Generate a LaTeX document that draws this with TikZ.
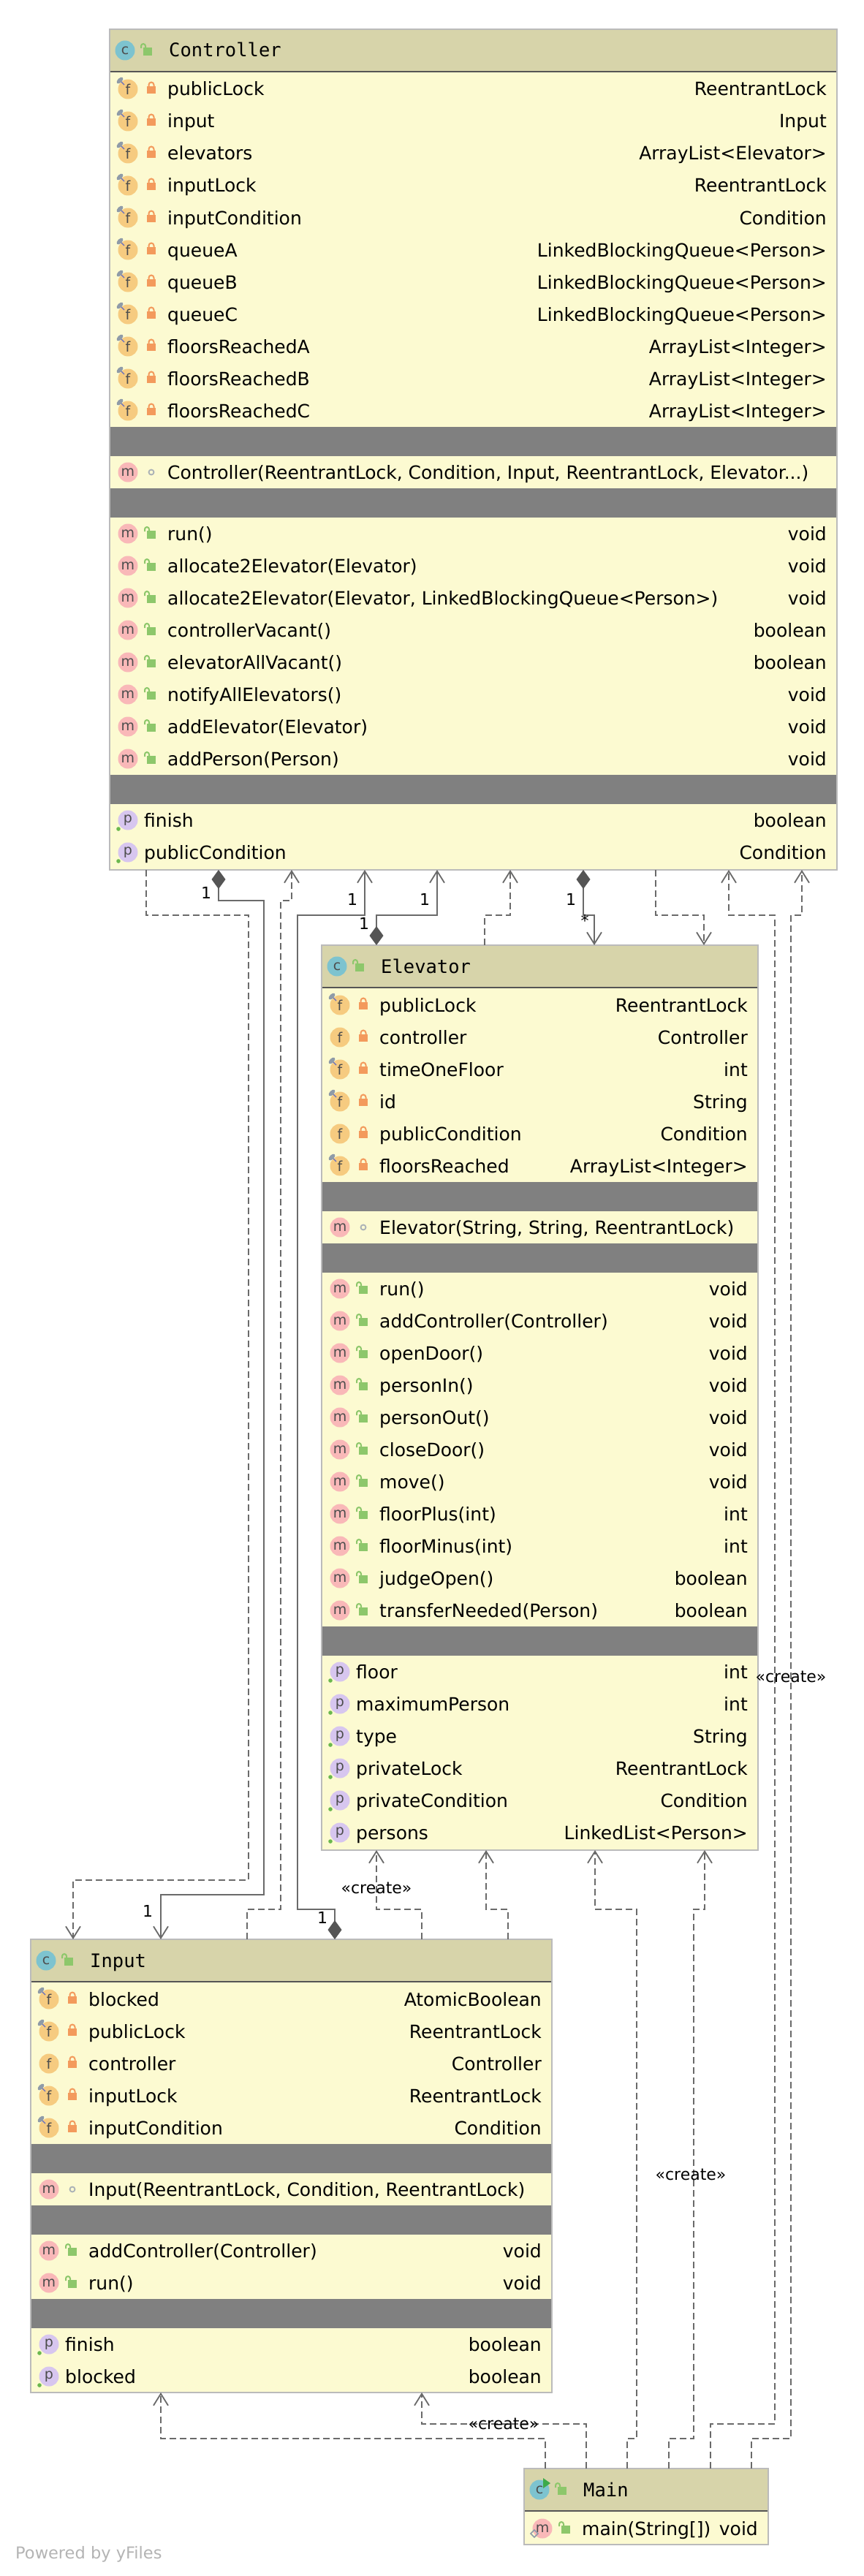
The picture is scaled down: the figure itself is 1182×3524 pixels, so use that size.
\documentclass[tikz,border=0pt]{standalone}
\usepackage{fontspec}
\setmainfont{DejaVu Sans}
\newfontfamily\monofont{DejaVu Sans Mono}
\usetikzlibrary{arrows.meta}
\definecolor{hdr}{HTML}{D7D4AA}
\definecolor{clsbody}{HTML}{FCFAD1}
\definecolor{band}{HTML}{808080}
\definecolor{bord}{HTML}{BBBBBB}
\definecolor{sepc}{HTML}{555555}
\definecolor{lnc}{HTML}{6A6A6A}
\definecolor{icoC}{HTML}{7DC3CF}
\definecolor{icoF}{HTML}{F6CB80}
\definecolor{icoM}{HTML}{F9B8B8}
\definecolor{icoP}{HTML}{D7C6EF}
\definecolor{lockR}{HTML}{F39A5C}
\definecolor{lockG}{HTML}{8DC76B}
\definecolor{pinc}{HTML}{8F9BA8}
\definecolor{dotg}{HTML}{6BB84E}
\definecolor{glyph}{HTML}{4D4D4D}
\definecolor{pkgc}{HTML}{AAB1B6}
\definecolor{runG}{HTML}{3DAA4A}
\definecolor{yfc}{HTML}{B4B4B4}
\newcounter{tn}
\tikzset{
  txt/.style={font=\fontsize{25}{30}\selectfont, inner sep=0pt, text=black},
  ttl/.style={font=\monofont\fontsize{25.5}{30}\selectfont, inner sep=0pt, text=black},
  icl/.style={font=\fontsize{19}{22}\selectfont, text=glyph, inner sep=0pt},
  lbl/.style={font=\fontsize{22}{26}\selectfont, inner sep=0pt, text=black},
  clsframe/.style={draw=bord, line width=2pt, anchor=north west, inner sep=0pt, outer sep=0pt},
  conn/.style={draw=lnc, line width=1.8pt},
  dep/.style={conn, dash pattern=on 9pt off 5pt},
  toarr/.style={-{Straight Barb[length=16pt,width=20pt]}},
  comp/.style={{Diamond[length=26pt,width=19pt,fill=sepc,color=sepc]}-{Straight Barb[length=16pt,width=20pt]}}
}
% icons
\newcommand\IcLetter[4]{\stepcounter{tn}\fill[#1] (#2,#3) circle (13.5pt); \node[icl] (ic\arabic{tn}) at (#2,#3) {#4};}
\newcommand\PinMk[2]{\fill[pinc, rotate around={45:(#1-11,#2-12)}] (#1-11,#2-12) ellipse (5.5pt and 3pt);
  \draw[pinc!70!blue, line width=1.2pt] (#1-9,#2-10) -- (#1-5,#2-6);}
\newcommand\LkPriv[2]{\fill[lockR] (#1-6,#2-4) rectangle (#1+6,#2+6);
  \draw[lockR,line width=2pt] (#1-3.5,#2-4) -- (#1-3.5,#2-6) arc[start angle=180,end angle=0,radius=3.5pt] -- (#1+3.5,#2-4);}
\newcommand\LkPub[2]{\fill[lockG] (#1-6,#2-4) rectangle (#1+6,#2+7);
  \draw[lockG,line width=2pt] (#1-3,#2-4) -- (#1-3,#2-6) arc[start angle=0,end angle=180,radius=3pt] -- (#1-9,#2-3);}
\newcommand\PkgMk[2]{\draw[pkgc,line width=1.8pt] (#1,#2) circle (3.5pt);}
% row texts
\newcommand\RTxt[5]{\stepcounter{tn}\node[txt,anchor=base west] (tl\arabic{tn}) at (#1,#3+9) {#4};
  \node[txt,anchor=base east] (tr\arabic{tn}) at (#2,#3+9) {#5};}
\newcommand\FldRow[6]{\IcLetter{icoF}{#1+25}{#3}{f}\ifnum#4=1 \PinMk{#1+25}{#3}\fi
  \LkPriv{#1+57}{#3}\RTxt{#1+79}{#2-14}{#3}{#5}{#6}}
\newcommand\MthRow[5]{\IcLetter{icoM}{#1+25}{#3}{m}\LkPub{#1+57}{#3}\RTxt{#1+79}{#2-14}{#3}{#4}{#5}}
\newcommand\CtorRow[4]{\IcLetter{icoM}{#1+25}{#3}{m}\PkgMk{#1+57}{#3}\RTxt{#1+79}{#2-14}{#3}{#4}{}}
\newcommand\PrpRow[5]{\IcLetter{icoP}{#1+25}{#3}{p}\fill[dotg] (#1+12,#3+12) circle (2.8pt);
  \RTxt{#1+47}{#2-14}{#3}{#4}{#5}}
\newcommand\ClsBg[4]{\fill[clsbody] (#1,#2) rectangle (#3,#4);
  \fill[hdr] (#1,#2) rectangle (#3,#2+57);
  \draw[sepc,line width=2.5pt] (#1,#2+58) -- (#3,#2+58);}
\newcommand\Band[3]{\fill[band] (#1,#2) rectangle (#3,#2+40);}
\newcommand\ClsHead[3]{\IcLetter{icoC}{#1+21}{#2+29}{c}\LkPub{#1+52}{#2+29}
  \stepcounter{tn}\node[ttl,anchor=base west] (hd\arabic{tn}) at (#1+81,#2+38) {#3};}

\begin{document}
\begin{tikzpicture}[x=1pt,y=-1pt]
\fill[white] (0,0) rectangle (1182,3524);
\useasboundingbox (0,0) rectangle (1182,3524);

%================ Controller
\ClsBg{150}{40}{1145}{1190}
\ClsHead{150}{40}{Controller}
\FldRow{150}{1145}{122}{1}{publicLock}{ReentrantLock}
\FldRow{150}{1145}{166}{1}{input}{Input}
\FldRow{150}{1145}{210}{1}{elevators}{ArrayList<Elevator>}
\FldRow{150}{1145}{254}{1}{inputLock}{ReentrantLock}
\FldRow{150}{1145}{298}{1}{inputCondition}{Condition}
\FldRow{150}{1145}{342}{1}{queueA}{LinkedBlockingQueue<Person>}
\FldRow{150}{1145}{386}{1}{queueB}{LinkedBlockingQueue<Person>}
\FldRow{150}{1145}{430}{1}{queueC}{LinkedBlockingQueue<Person>}
\FldRow{150}{1145}{474}{1}{floorsReachedA}{ArrayList<Integer>}
\FldRow{150}{1145}{518}{1}{floorsReachedB}{ArrayList<Integer>}
\FldRow{150}{1145}{562}{1}{floorsReachedC}{ArrayList<Integer>}
\Band{150}{584}{1145}
\CtorRow{150}{1145}{646}{Controller(ReentrantLock, Condition, Input, ReentrantLock, Elevator...)}
\Band{150}{668}{1145}
\MthRow{150}{1145}{730}{run()}{void}
\MthRow{150}{1145}{774}{allocate2Elevator(Elevator)}{void}
\MthRow{150}{1145}{818}{allocate2Elevator(Elevator, LinkedBlockingQueue<Person>)}{void}
\MthRow{150}{1145}{862}{controllerVacant()}{boolean}
\MthRow{150}{1145}{906}{elevatorAllVacant()}{boolean}
\MthRow{150}{1145}{950}{notifyAllElevators()}{void}
\MthRow{150}{1145}{994}{addElevator(Elevator)}{void}
\MthRow{150}{1145}{1038}{addPerson(Person)}{void}
\Band{150}{1060}{1145}
\PrpRow{150}{1145}{1122}{finish}{boolean}
\PrpRow{150}{1145}{1166}{publicCondition}{Condition}
\node[clsframe, minimum width=995pt, minimum height=1150pt] (ctrl) at (150,40) {};

%================ Elevator
\ClsBg{440}{1293}{1037}{2531}
\ClsHead{440}{1293}{Elevator}
\FldRow{440}{1037}{1375}{1}{publicLock}{ReentrantLock}
\FldRow{440}{1037}{1419}{0}{controller}{Controller}
\FldRow{440}{1037}{1463}{1}{timeOneFloor}{int}
\FldRow{440}{1037}{1507}{1}{id}{String}
\FldRow{440}{1037}{1551}{0}{publicCondition}{Condition}
\FldRow{440}{1037}{1595}{1}{floorsReached}{ArrayList<Integer>}
\Band{440}{1617}{1037}
\CtorRow{440}{1037}{1679}{Elevator(String, String, ReentrantLock)}
\Band{440}{1701}{1037}
\MthRow{440}{1037}{1763}{run()}{void}
\MthRow{440}{1037}{1807}{addController(Controller)}{void}
\MthRow{440}{1037}{1851}{openDoor()}{void}
\MthRow{440}{1037}{1895}{personIn()}{void}
\MthRow{440}{1037}{1939}{personOut()}{void}
\MthRow{440}{1037}{1983}{closeDoor()}{void}
\MthRow{440}{1037}{2027}{move()}{void}
\MthRow{440}{1037}{2071}{floorPlus(int)}{int}
\MthRow{440}{1037}{2115}{floorMinus(int)}{int}
\MthRow{440}{1037}{2159}{judgeOpen()}{boolean}
\MthRow{440}{1037}{2203}{transferNeeded(Person)}{boolean}
\Band{440}{2225}{1037}
\PrpRow{440}{1037}{2287}{floor}{int}
\PrpRow{440}{1037}{2331}{maximumPerson}{int}
\PrpRow{440}{1037}{2375}{type}{String}
\PrpRow{440}{1037}{2419}{privateLock}{ReentrantLock}
\PrpRow{440}{1037}{2463}{privateCondition}{Condition}
\PrpRow{440}{1037}{2507}{persons}{LinkedList<Person>}
\node[clsframe, minimum width=597pt, minimum height=1238pt] (elev) at (440,1293) {};

%================ Input
\ClsBg{42}{2653}{755}{3273}
\ClsHead{42}{2653}{Input}
\FldRow{42}{755}{2735}{1}{blocked}{AtomicBoolean}
\FldRow{42}{755}{2779}{1}{publicLock}{ReentrantLock}
\FldRow{42}{755}{2823}{0}{controller}{Controller}
\FldRow{42}{755}{2867}{1}{inputLock}{ReentrantLock}
\FldRow{42}{755}{2911}{1}{inputCondition}{Condition}
\Band{42}{2933}{755}
\CtorRow{42}{755}{2995}{Input(ReentrantLock, Condition, ReentrantLock)}
\Band{42}{3017}{755}
\MthRow{42}{755}{3079}{addController(Controller)}{void}
\MthRow{42}{755}{3123}{run()}{void}
\Band{42}{3145}{755}
\PrpRow{42}{755}{3207}{finish}{boolean}
\PrpRow{42}{755}{3251}{blocked}{boolean}
\node[clsframe, minimum width=713pt, minimum height=620pt] (inp) at (42,2653) {};

%================ Main
\ClsBg{717}{3377}{1051}{3481}
\ClsHead{717}{3377}{Main}
\fill[runG] (743,3390) -- (753,3397) -- (743,3404) -- cycle;
\MthRow{717}{1051}{3459}{main(String[])}{void}
\draw[pinc, line width=1.5pt] (731,3461) -- (736,3466) -- (731,3471) -- (726,3466) -- cycle;
\node[clsframe, minimum width=334pt, minimum height=104pt] (mainc) at (717,3377) {};

%================ connectors
% Controller -> Input
\draw[dep, toarr] ([xshift=50pt]ctrl.south west) -- (200,1252) -- (340,1252) -- (340,2572) -- (100,2572) -- ([xshift=58pt]inp.north west);
\draw[conn, comp] ([xshift=149pt]ctrl.south west) -- (299,1232) -- (361,1232) -- (361,2592) -- (220,2592) -- ([xshift=178pt]inp.north west);
% Input -> Controller
\draw[dep, toarr] ([xshift=296pt]inp.north west) -- (338,2612) -- (384,2612) -- (384,1232) -- (399,1232) -- ([xshift=249pt]ctrl.south west);
\draw[conn, comp] ([xshift=416pt]inp.north west) -- (458,2612) -- (407,2612) -- (407,1252) -- (499,1252) -- ([xshift=349pt]ctrl.south west);
% Elevator <-> Controller
\draw[conn, comp] ([xshift=75pt]elev.north west) -- (515,1252) -- (598,1252) -- ([xshift=448pt]ctrl.south west);
\draw[dep, toarr] ([xshift=223pt]elev.north west) -- (663,1252) -- (698,1252) -- ([xshift=548pt]ctrl.south west);
\draw[conn, comp] ([xshift=648pt]ctrl.south west) -- (798,1252) -- (813,1252) -- ([xshift=373pt]elev.north west);
\draw[dep, toarr] ([xshift=747pt]ctrl.south west) -- (897,1252) -- (963,1252) -- ([xshift=523pt]elev.north west);
% Main -> Controller
\draw[dep, toarr] ([xshift=255pt]mainc.north west) -- (972,3316) -- (1060,3316) -- (1060,1252) -- (997,1252) -- ([xshift=847pt]ctrl.south west);
\draw[dep, toarr] ([xshift=311pt]mainc.north west) -- (1028,3336) -- (1082,3336) -- (1082,1252) -- (1097,1252) -- ([xshift=947pt]ctrl.south west);
% Input -> Elevator
\draw[dep, toarr] ([xshift=535pt]inp.north west) -- (577,2612) -- (515,2612) -- ([xshift=75pt]elev.south west);
\draw[dep, toarr] ([xshift=653pt]inp.north west) -- (695,2612) -- (665,2612) -- ([xshift=225pt]elev.south west);
% Main -> Elevator
\draw[dep, toarr] ([xshift=141pt]mainc.north west) -- (858,3336) -- (871,3336) -- (871,2612) -- (814,2612) -- ([xshift=374pt]elev.south west);
\draw[dep, toarr] ([xshift=198pt]mainc.north west) -- (915,3336) -- (949,3336) -- (949,2612) -- (964,2612) -- ([xshift=524pt]elev.south west);
% Main -> Input
\draw[dep, toarr] ([xshift=29pt]mainc.north west) -- (746,3336) -- (220,3336) -- ([xshift=178pt]inp.south west);
\draw[dep, toarr] ([xshift=85pt]mainc.north west) -- (802,3316) -- (577,3316) -- ([xshift=535pt]inp.south west);

%================ labels
\node[lbl] (m1) at (282,1221) {1};
\node[lbl] (m2) at (482,1230) {1};
\node[lbl] (m3) at (581,1230) {1};
\node[lbl] (m4) at (498,1263) {1};
\node[lbl] (m5) at (781,1230) {1};
\node[lbl] (m6) at (800,1259) {*};
\node[lbl] (m7) at (202,2614) {1};
\node[lbl] (m8) at (441,2623) {1};
\node[lbl] (cr1) at (515,2583) {«create»};
\node[lbl] (cr2) at (1082,2294) {«create»};
\node[lbl] (cr3) at (945,2975) {«create»};
\node[lbl] (cr4) at (689,3316) {«create»};
\node[font=\fontsize{22.5}{26}\selectfont, text=yfc, anchor=base west, inner sep=0pt] (pw) at (21,3500) {Powered by yFiles};
\end{tikzpicture}
\end{document}
